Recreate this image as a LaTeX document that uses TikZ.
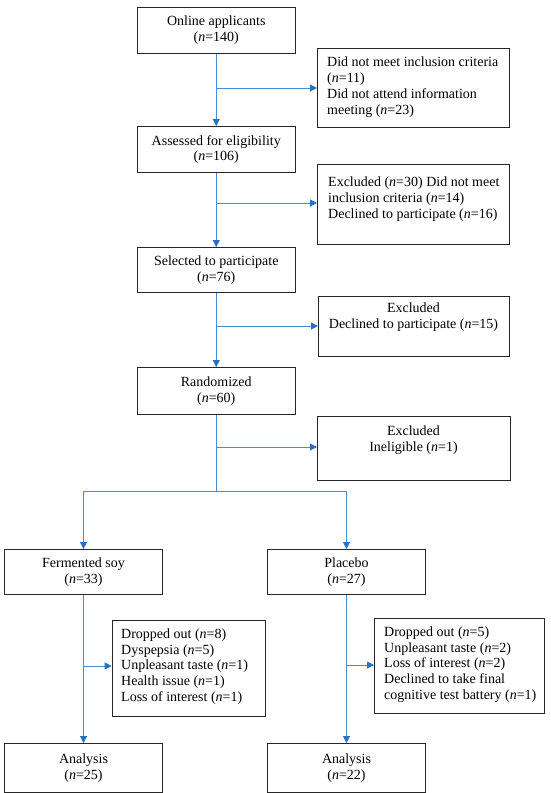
\documentclass[tikz,border=0pt]{standalone}
\usepackage{fontspec}
\setmainfont{Liberation Serif}
\usetikzlibrary{arrows.meta}
\definecolor{lineblue}{RGB}{75,140,208}
\definecolor{tipblue}{RGB}{40,112,192}
\newcommand{\nn}{\textit{n}}
\begin{document}
\begin{tikzpicture}[x=1pt,y=-1pt,
  font=\fontsize{14}{15.8}\selectfont,
  box/.style={draw=black!85, line width=1pt, inner sep=0pt, anchor=north west, align=center},
  txt/.style={inner sep=0pt, align=center},
  ltxt/.style={inner sep=0pt, align=left, anchor=west},
  conn/.style={draw=lineblue, line width=1pt},
  arr/.style={conn, -{Triangle[length=7pt,width=7pt,color=tipblue]}}
]
\useasboundingbox (0,0) rectangle (550,793);

% main column
\node[box, minimum width=158.5pt, minimum height=46pt] (b1) at (136.5,7) {Online applicants\\(\nn=140)};
\node[box, minimum width=158.5pt, minimum height=46pt] (b2) at (136.5,126) {Assessed for eligibility\\(\nn=106)};
\node[box, minimum width=158.5pt, minimum height=45pt] (b3) at (136.5,247) {Selected to participate\\(\nn=76)};
\node[box, minimum width=158.5pt, minimum height=47pt] (b4) at (136.5,367) {Randomized\\(\nn=60)};

% side boxes
\node[box, minimum width=192pt, minimum height=79pt] (s1) at (317,48) {};
\node[ltxt] (s1t) at (327,87) {Did not meet inclusion criteria\\(\nn=11)\\Did not attend information\\meeting (\nn=23)};
\node[box, minimum width=192pt, minimum height=80pt] (s2) at (317,164) {};
\node[ltxt] (s2t) at (328,199) {Excluded (\nn=30) Did not meet\\inclusion criteria (\nn=14)\\Declined to participate (\nn=16)};
\node[box, minimum width=191pt, minimum height=60pt] (s3) at (318,296) {};
\node[txt] (s3t) at (413.5,317) {Excluded\\Declined to participate (\nn=15)};
\node[box, minimum width=193pt, minimum height=64pt] (s4) at (317,416) {};
\node[txt] (s4t) at (413.5,440.5) {Excluded\\Ineligible (\nn=1)};

% arms
\node[box, minimum width=158pt, minimum height=45pt] (f) at (4,549) {Fermented soy\\(\nn=33)};
\node[box, minimum width=158pt, minimum height=45pt] (p) at (267,549) {Placebo\\(\nn=27)};
\node[box, minimum width=153.3pt, minimum height=96pt] (s5) at (111.7,620) {};
\node[ltxt] (s5t) at (121,666.5) {Dropped out (\nn=8)\\Dyspepsia (\nn=5)\\Unpleasant taste (\nn=1)\\Health issue (\nn=1)\\Loss of interest (\nn=1)};
\node[box, minimum width=170pt, minimum height=95pt] (s6) at (374,618) {};
\node[ltxt] (s6t) at (384,664.5) {Dropped out (\nn=5)\\Unpleasant taste (\nn=2)\\Loss of interest (\nn=2)\\Declined to take final\\cognitive test battery (\nn=1)};
\node[box, minimum width=158pt, minimum height=49pt] (a1) at (4,743) {Analysis\\(\nn=25)};
\node[box, minimum width=158pt, minimum height=49pt] (a2) at (267,743) {Analysis\\(\nn=22)};

% junction points
\coordinate (j1) at (b1.south |- 0,88);
\coordinate (j2) at (b2.south |- 0,203);
\coordinate (j3) at (b3.south |- 0,326);
\coordinate (j4) at (b4.south |- 0,447);
\coordinate (sp) at (b4.south |- 0,491);
\coordinate (j5) at (f.south |- 0,666);
\coordinate (j6) at (p.south |- 0,665);

% connectors
\draw[arr] (b1) -- (b2);
\draw[arr] (j1) -- (j1 -| s1.west);
\draw[arr] (b2) -- (b3);
\draw[arr] (j2) -- (j2 -| s2.west);
\draw[arr] (b3) -- (b4);
\draw[arr] (j3) -- (j3 -| s3.west);
\draw[conn] (b4.south) -- (sp);
\draw[arr] (j4) -- (j4 -| s4.west);
\draw[arr] (sp) -| (f.north);
\draw[arr] (sp) -| (p.north);
\draw[arr] (f) -- (a1);
\draw[arr] (j5) -- (j5 -| s5.west);
\draw[arr] (p) -- (a2);
\draw[arr] (j6) -- (j6 -| s6.west);
\end{tikzpicture}
\end{document}
